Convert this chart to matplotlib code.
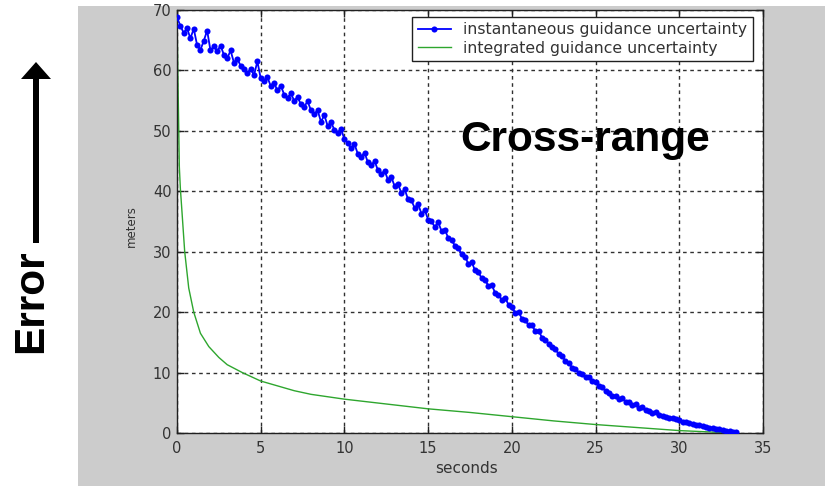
import numpy as np
import matplotlib.pyplot as plt
from matplotlib.patches import Rectangle, Polygon

W, H = 825, 486

# instantaneous guidance uncertainty, one sample every 0.2 s
inst_step = 0.2
inst_unc = [
    68.8, 67.4, 66.2, 67.0, 65.3, 66.9, 64.2, 63.4, 64.9, 66.6,
    63.3, 64.0, 63.2, 64.1, 62.6, 62.0, 63.3, 61.3, 61.9, 60.8,
    60.2, 59.5, 60.3, 59.2, 61.5, 58.7, 58.3, 58.9, 57.4, 57.9,
    56.7, 57.5, 56.0, 55.5, 56.2, 55.0, 55.6, 54.4, 54.0, 54.9,
    53.4, 52.8, 53.4, 51.5, 52.6, 50.8, 51.4, 50.2, 49.7, 50.3,
    48.6, 48.0, 47.1, 47.8, 46.2, 45.7, 46.4, 44.8, 44.3, 45.0,
    43.5, 42.8, 43.4, 41.9, 42.4, 40.8, 41.2, 39.7, 40.3, 38.7,
    38.5, 37.2, 37.9, 36.3, 36.9, 35.3, 35.0, 34.1, 34.9, 33.4,
    33.6, 32.3, 31.9, 31.0, 30.6, 29.6, 29.2, 28.0, 28.3, 26.9,
    26.6, 25.6, 25.4, 24.3, 24.5, 23.2, 22.9, 22.0, 22.4, 21.2,
    20.9, 19.9, 20.1, 18.9, 18.7, 17.8, 17.9, 16.8, 16.9, 15.8,
    15.4, 14.8, 14.2, 13.9, 13.0, 12.8, 11.9, 11.6, 10.8, 10.6,
    10.0, 9.8, 9.2, 9.3, 8.6, 8.4, 7.7, 7.6, 6.9, 6.7,
    6.2, 6.1, 5.6, 5.8, 5.2, 5.2, 4.7, 4.8, 4.2, 4.3,
    3.8, 3.7, 3.3, 3.4, 2.9, 2.8, 2.6, 2.5, 2.4, 2.3,
    2.2, 1.9, 1.8, 1.6, 1.5, 1.4, 1.3, 1.1, 1.0, 0.9,
    0.8, 0.7, 0.6, 0.5, 0.4, 0.3, 0.2, 0.1,
]
inst_t = np.arange(len(inst_unc)) * inst_step

# integrated guidance uncertainty
integ_t = [0, 0.06, 0.14, 0.2, 0.3, 0.46, 0.7, 1.0, 1.4, 1.9, 2.5, 3.0, 3.9,
           5.0, 6.0, 7.0, 8.0, 10.0, 12.5, 15.0, 17.5, 20.0, 22.5, 25.0,
           27.5, 30.0, 32.0, 33.5]
integ_unc = [69.0, 58.0, 44.0, 40.5, 36.5, 30.0, 24.0, 20.0, 16.5, 14.3, 12.5,
             11.3, 10.0, 8.6, 7.8, 7.0, 6.4, 5.6, 4.8, 4.0, 3.4, 2.7, 2.0,
             1.4, 0.9, 0.4, 0.15, 0.0]

x_ticks = [0, 5, 10, 15, 20, 25, 30, 35]
y_ticks = [0, 10, 20, 30, 40, 50, 60, 70]


def fx(x):
    return x / W


def fy(y):
    return 1 - y / H


fig = plt.figure(figsize=(W / 100, H / 100), dpi=100, facecolor='white')

# grey panel behind the plot
fig.patches.append(Rectangle((fx(78), 0), fx(W) - fx(78), fy(6),
                             transform=fig.transFigure, facecolor='#cccccc',
                             edgecolor='none', zorder=-5))

ax = fig.add_axes([fx(177), fy(433), fx(763) - fx(177), fy(10) - fy(433)])
ax.set_zorder(2)
ax.set_facecolor('white')

ax.plot(inst_t, inst_unc, color='#0000ff', lw=1.3, marker='o', ms=4.4,
        mec='none', label='instantaneous guidance uncertainty', zorder=3)
ax.plot(integ_t, integ_unc, color='#2ea62e', lw=1.0,
        label='integrated guidance uncertainty', zorder=2)

ax.set_xlim(0, 35)
ax.set_ylim(0, 70)
ax.set_xticks(x_ticks)
ax.set_yticks(y_ticks)
ax.grid(True, color='#303030', lw=1.0, linestyle=(0, (2.6, 2.6)))
ax.set_axisbelow(True)
ax.tick_params(direction='in', length=5, width=1, colors='#202020',
               top=True, right=True, labelsize=10.5, labelcolor='#333333')
ax.tick_params(axis='x', pad=6)
ax.tick_params(axis='y', pad=4)
for s in ax.spines.values():
    s.set_color('#202020')
    s.set_linewidth(1.0)

ax.set_xlabel('seconds', fontsize=11, color='#333333')
ax.xaxis.set_label_coords(0.494, -0.066)
ax.set_ylabel('meters', fontsize=8.5, color='#333333')
ax.yaxis.set_label_coords(-0.067, 0.49)

leg = ax.legend(loc='upper right', bbox_to_anchor=(1 - 10 / 586, 1 - 7 / 423),
                borderaxespad=0, fancybox=False, framealpha=1, edgecolor='#202020',
                fontsize=11.3, handlelength=2.1, handletextpad=0.8,
                labelspacing=0.2, borderpad=0.35)
leg.get_frame().set_linewidth(1.0)
for t in leg.get_texts():
    t.set_color('#333333')

ax.text(16.9, 46.7, 'Cross-range', fontsize=30.5, fontweight='bold',
        family='Liberation Sans', ha='left', va='baseline', color='black')

# "Error" label with an upward arrow
fig.text(fx(31), fy(301), 'Error', rotation=90, fontsize=30.5, fontweight='bold',
         family='Liberation Sans', ha='center', va='center', color='black')
fig.patches.append(Rectangle((fx(33), fy(243)), fx(39) - fx(33), fy(79) - fy(243),
                             transform=fig.transFigure, facecolor='black',
                             edgecolor='none'))
fig.patches.append(Polygon([(fx(21), fy(79)), (fx(51), fy(79)), (fx(36), fy(62))],
                           closed=True, transform=fig.transFigure,
                           facecolor='black', edgecolor='none'))

fig.savefig('out.png', dpi=100, facecolor=fig.get_facecolor())
